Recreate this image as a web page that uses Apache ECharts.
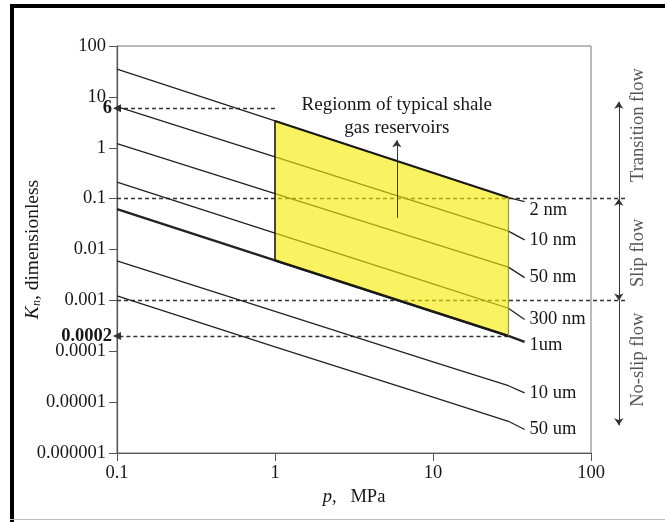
<!DOCTYPE html>
<html>
<head>
<meta charset="utf-8">
<script src="https://cdn.jsdelivr.net/npm/echarts@6/dist/echarts.min.js"></script>
<style>
  html, body { margin: 0; padding: 0; background: #fff; }
  #chart { width: 665px; height: 522px; }
</style>
</head>
<body>
<div id="chart"></div>
<script>
// Pressure points (MPa) at which each Knudsen-number curve is sampled
const pressure = [0.1, 1, 10, 30, 38];

// Knudsen number for each pore size
const poreNames = ['2 nm', '10 nm', '50 nm', '300 nm', '1um', '10 um', '50 um'];
const kn2nm   = [35, 3.36, 0.317, 0.105, 0.087];
const kn10nm  = [6.4, 0.66, 0.068, 0.023, 0.0155];
const kn50nm  = [1.2, 0.126, 0.0132, 0.0045, 0.0028];
const kn300nm = [0.21, 0.021, 0.0021, 0.0007, 0.00042];
const kn1um   = [0.062, 0.0061, 0.0006, 0.0002, 0.000153];
const kn10um  = [0.006, 0.00061, 0.000062, 0.000021, 0.0000152];
const kn50um  = [0.00122, 0.000122, 0.0000125, 0.0000042, 0.0000029];
const knSeries = [kn2nm, kn10nm, kn50nm, kn300nm, kn1um, kn10um, kn50um];

// Typical shale gas reservoir window
const regionPressure = [1, 30];
const regionUpperKn = [3.36, 0.105];   // bounded by the 2 nm curve
const regionLowerKn = [0.0061, 0.0002]; // bounded by the 1 um curve

// Marked values on the Kn axis
const markedKn = [6, 0.0002];
const markedLabels = ['6', '0.0002'];
const markedPressure = [1, 30];

// Flow regime boundaries
const flowBoundaries = [0.1, 0.001];
const flowNames = ['Transition flow', 'Slip flow', 'No-slip flow'];

// Axis tick labels
const xTickLabels = { '-1': '0.1', '0': '1', '1': '10', '2': '100' };
const yTickLabels = { '-6': '0.000001', '-5': '0.00001', '-4': '0.0001', '-3': '0.001',
  '-2': '0.01', '-1': '0.1', '0': '1', '1': '10', '2': '100' };

const SERIF = 'Liberation Serif';
const INK = '#161616';
const FS = 18.5;

const chart = echarts.init(document.getElementById('chart'));

const curveSeries = poreNames.map((name, i) => ({
  name: name,
  type: 'line',
  z: 2,
  symbol: 'none',
  smooth: false,
  data: pressure.map((p, j) => [p, knSeries[i][j]]),
  lineStyle: { color: '#222', width: name === '1um' ? 2.4 : 1.3 },
  endLabel: {
    show: true,
    formatter: name,
    distance: 5,
    offset: name === '2 nm' ? [0, 8] : (name === '1um' ? [0, 3] : [0, 0]),
    color: INK,
    fontFamily: SERIF,
    fontSize: FS
  },
  emphasis: { disabled: true },
  animation: false
}));

const regionSeries = {
  type: 'custom',
  z: 3,
  data: [[regionPressure[0], regionUpperKn[0]]],
  encode: { x: 0, y: 1 },
  renderItem: function (params, api) {
    const p0 = api.coord([regionPressure[0], regionUpperKn[0]]);
    const p1 = api.coord([regionPressure[1], regionUpperKn[1]]);
    const p2 = api.coord([regionPressure[1], regionLowerKn[1]]);
    const p3 = api.coord([regionPressure[0], regionLowerKn[0]]);
    return {
      type: 'group',
      children: [
        { type: 'polygon', shape: { points: [p0, p1, p2, p3] },
          style: { fill: 'rgba(246,234,0,0.62)', stroke: null } },
        { type: 'polyline', shape: { points: [p0, p1] },
          style: { stroke: '#1a1a1a', lineWidth: 2, fill: null } },
        { type: 'polyline', shape: { points: [p3, p2] },
          style: { stroke: '#1a1a1a', lineWidth: 2.4, fill: null } },
        { type: 'polyline', shape: { points: [p0, p3] },
          style: { stroke: '#1a1a1a', lineWidth: 1.6, fill: null } },
        { type: 'polyline', shape: { points: [p1, p2] },
          style: { stroke: '#8a8440', lineWidth: 1, fill: null } }
      ]
    };
  },
  silent: true,
  animation: false
};

// Dashed guides: marked values pointing to the axis, and regime boundaries
const guideData = markedKn.map((k, i) => ({
  coords: [[markedPressure[i], k], [0.1, k]],
  symbol: ['none', 'triangle'],
  symbolSize: [0, 8]
})).concat(flowBoundaries.map(k => ({
  coords: [[0.1, k], [165, k]],
  symbol: ['none', 'none']
})));

const guideSeries = {
  type: 'lines',
  coordinateSystem: 'cartesian2d',
  z: 2,
  clip: false,
  symbol: ['none', 'triangle'],
  symbolSize: 8,
  lineStyle: { color: '#333', width: 1.3, type: [4, 3], opacity: 1 },
  data: guideData,
  silent: true,
  animation: false
};

// Solid arrows: flow regime extents and the region callout
const arrowPressure = 150;
const arrowSeries = {
  type: 'lines',
  coordinateSystem: 'cartesian2d',
  z: 5,
  clip: false,
  symbolSize: 7,
  lineStyle: { color: '#333', width: 1, type: 'solid', opacity: 1 },
  data: [
    { coords: [[arrowPressure, flowBoundaries[0]], [arrowPressure, 8]], symbol: ['none', 'arrow'] },
    { coords: [[arrowPressure, flowBoundaries[0]], [arrowPressure, flowBoundaries[1]]], symbol: ['arrow', 'arrow'] },
    { coords: [[arrowPressure, flowBoundaries[1]], [arrowPressure, 0.0000035]], symbol: ['none', 'arrow'] },
    { coords: [[5.9, 0.042], [5.9, 1.4]], symbol: ['none', 'arrow'] }
  ],
  silent: true,
  animation: false
};

chart.setOption({
  animation: false,
  backgroundColor: '#fff',
  grid: {
    left: 117, right: 74, top: 46, bottom: 69,
    containLabel: false, outerBoundsMode: 'none',
    show: true, borderColor: '#777', borderWidth: 1, backgroundColor: 'transparent'
  },
  xAxis: {
    type: 'log', logBase: 10, min: 0.1, max: 100,
    name: '{i|p}{t|,   MPa}',
    nameLocation: 'middle', nameGap: 31,
    nameTextStyle: {
      rich: {
        i: { fontFamily: SERIF, fontStyle: 'italic', fontSize: FS, color: INK },
        t: { fontFamily: SERIF, fontSize: FS, color: INK }
      }
    },
    axisLine: { show: true, lineStyle: { color: '#555', width: 1.2 } },
    axisTick: { show: true, inside: false, length: 8, lineStyle: { color: '#555' } },
    minorTick: { show: false },
    splitLine: { show: false },
    axisLabel: {
      margin: 11, fontFamily: SERIF, fontSize: FS, color: INK,
      formatter: v => xTickLabels[String(Math.round(Math.log10(v)))] || ''
    }
  },
  yAxis: {
    type: 'log', logBase: 10, min: 0.000001, max: 100,
    axisLine: { show: true, lineStyle: { color: '#555', width: 1.2 } },
    axisTick: { show: true, inside: false, length: 8, lineStyle: { color: '#555' } },
    minorTick: { show: false },
    splitLine: { show: false },
    axisLabel: {
      margin: 11, fontFamily: SERIF, fontSize: FS, color: INK,
      formatter: v => yTickLabels[String(Math.round(Math.log10(v)))] || ''
    }
  },
  series: curveSeries.concat([regionSeries, guideSeries, arrowSeries])
});

// Text annotations placed through the axes
function px(p, k) { return chart.convertToPixel({ gridIndex: 0 }, [p, k]); }

const graphics = [];
// outer frame
graphics.push({ type: 'rect', shape: { x: 10, y: 4, width: 655, height: 4 }, style: { fill: '#000' }, silent: true });
graphics.push({ type: 'rect', shape: { x: 10, y: 4, width: 4, height: 518 }, style: { fill: '#000' }, silent: true });
graphics.push({ type: 'rect', shape: { x: 10, y: 519, width: 655, height: 1 }, style: { fill: '#bbb' }, silent: true });

// Kn axis title, rotated, centred on the plot height
const yMid = (px(0.1, 100)[1] + px(0.1, 0.000001)[1]) / 2;
graphics.push({
  type: 'text', x: 33, y: yMid, rotation: Math.PI / 2,
  style: {
    text: '{i|K}{s|n}{t|, dimensionless}',
    rich: {
      i: { fontFamily: SERIF, fontStyle: 'italic', fontSize: 19.5, fill: INK },
      s: { fontFamily: SERIF, fontStyle: 'italic', fontSize: 12, fill: INK, padding: [8, 0, 0, 0] },
      t: { fontFamily: SERIF, fontSize: 19.5, fill: INK }
    },
    align: 'center', verticalAlign: 'middle'
  },
  silent: true
});

// bold marked values next to the Kn axis
markedKn.forEach((k, i) => {
  const pt = px(0.1, k);
  graphics.push({
    type: 'text', x: pt[0] - 5, y: pt[1],
    style: { text: markedLabels[i], fontFamily: SERIF, fontWeight: 'bold', fontSize: FS,
      fill: INK, align: 'right', verticalAlign: 'middle' },
    silent: true
  });
});

// region callout
const calloutCentre = px(5.9, 4.1);
graphics.push({
  type: 'text', x: calloutCentre[0], y: calloutCentre[1],
  style: { text: 'Regionm of typical shale\ngas reservoirs', fontFamily: SERIF, fontSize: 19,
    lineHeight: 23, fill: INK, align: 'center', verticalAlign: 'middle' },
  silent: true
});

// flow regime labels, rotated, beside the arrows
const flowCentres = [2.8, 0.0086, 0.000068];
flowNames.forEach((name, i) => {
  const pt = px(200, flowCentres[i]);
  graphics.push({
    type: 'text', x: pt[0], y: pt[1], rotation: Math.PI / 2,
    style: { text: name, fontFamily: SERIF, fontSize: FS, fill: '#555',
      align: 'center', verticalAlign: 'middle' },
    silent: true
  });
});

chart.setOption({ graphic: graphics });
</script>
</body>
</html>
